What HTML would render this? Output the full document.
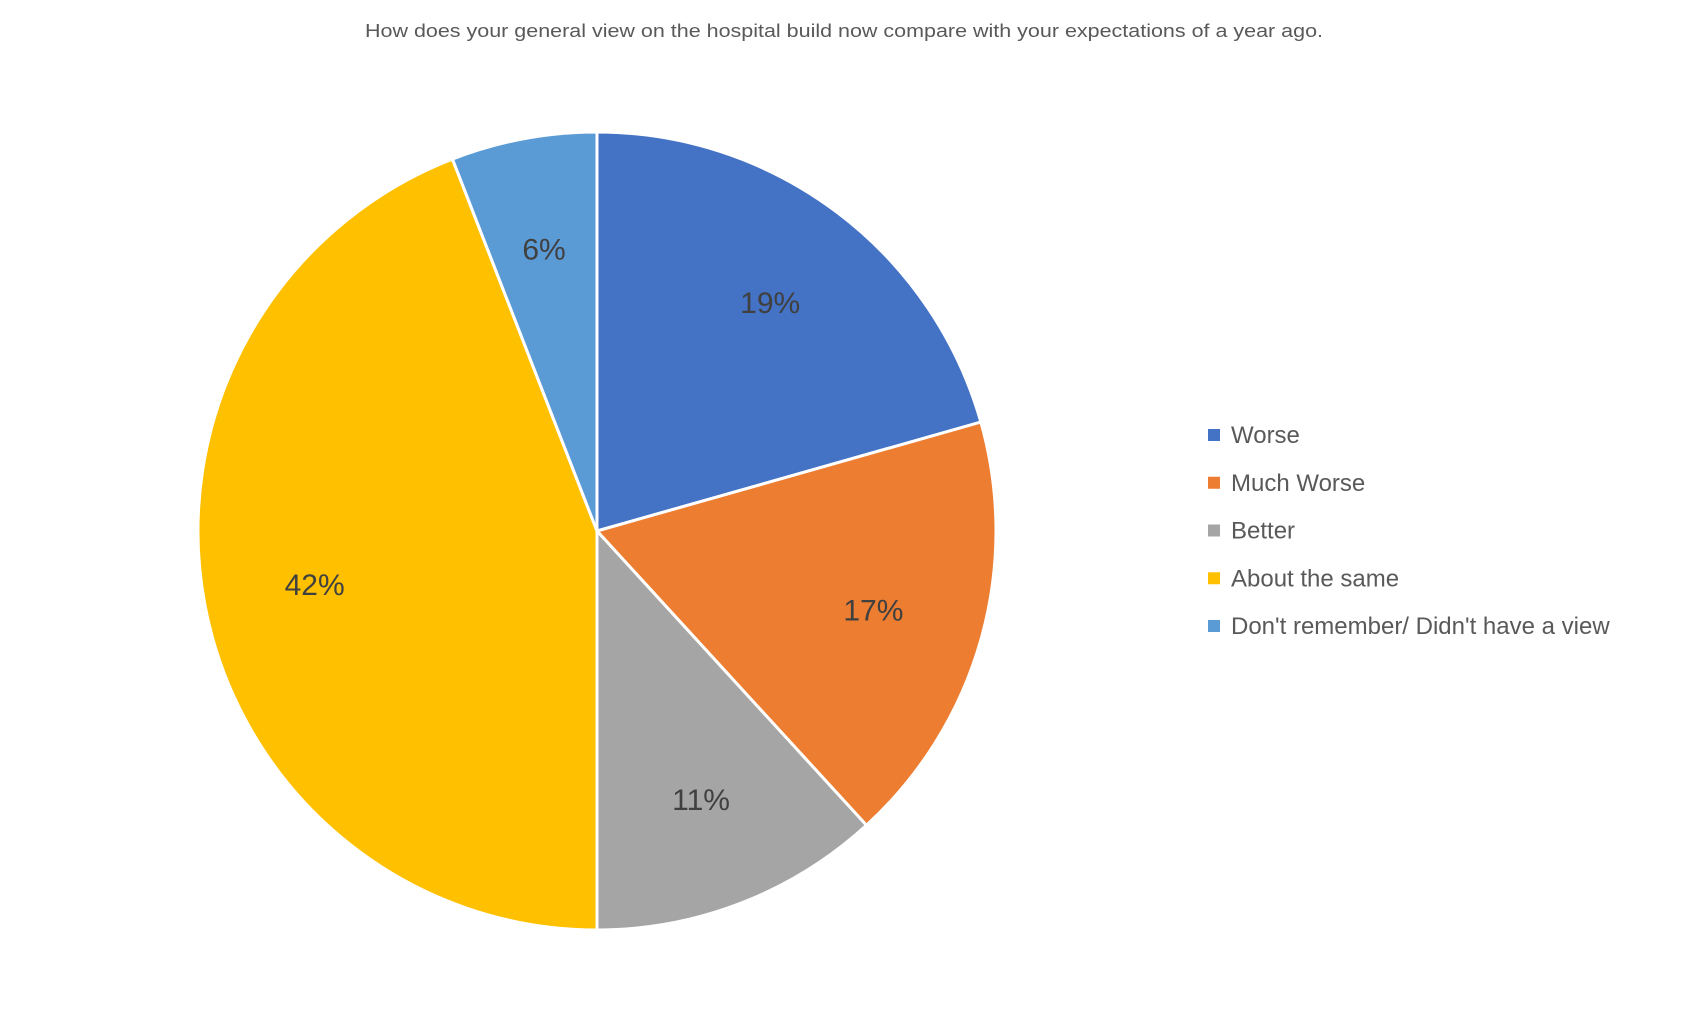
<!DOCTYPE html>
<html><head><meta charset="utf-8"><style>
html,body{margin:0;padding:0;background:#fff;}
svg{display:block;font-family:"Liberation Sans",sans-serif;}
</style></head><body>
<svg id="chart" width="1684" height="1015" viewBox="0 0 1684 1015">
<text x="844" y="37" text-anchor="middle" font-size="18" fill="#595959" textLength="958" lengthAdjust="spacingAndGlyphs">How does  your general  view on the hospital build  now compare with your expectations of a year ago.</text>
<g id="slices"></g>
<g id="labels"></g>
<g id="legend"></g>
</svg>
<script>
const categories = ["Worse","Much Worse","Better","About the same","Don't remember/ Didn't have a view"];
const values = [20.6,17.6,11.8,44.1,5.9];
const valueLabels = ["19%","17%","11%","42%","6%"];
const colors = ["#4472C4","#ED7D31","#A5A5A5","#FFC000","#5B9BD5"];
const NS="http://www.w3.org/2000/svg";
const cx=597, cy=531, r=399;
const total=values.reduce((a,b)=>a+b,0);
const sl=document.getElementById('slices'), lb=document.getElementById('labels'), lg=document.getElementById('legend');
function pt(a,rr){return [cx+rr*Math.sin(a), cy-rr*Math.cos(a)];}
let acc=0;
values.forEach((v,i)=>{
  const a0=acc/total*2*Math.PI; acc+=v; const a1=acc/total*2*Math.PI;
  const p0=pt(a0,r), p1=pt(a1,r);
  const large=(a1-a0)>Math.PI?1:0;
  const p=document.createElementNS(NS,'path');
  p.setAttribute('d',`M${cx},${cy} L${p0[0]},${p0[1]} A${r},${r} 0 ${large} 1 ${p1[0]},${p1[1]} Z`);
  p.setAttribute('fill',colors[i]); p.setAttribute('stroke','#fff'); p.setAttribute('stroke-width','3');
  
  
  sl.appendChild(p);
  const am=(a0+a1)/2, lp=pt(am,r*0.72);
  const t=document.createElementNS(NS,'text');
  t.setAttribute('x',lp[0]); t.setAttribute('y',lp[1]+11);
  t.setAttribute('text-anchor','middle'); t.setAttribute('font-size','30'); t.setAttribute('fill','#404040');
  t.textContent=valueLabels[i];
  
  
  lb.appendChild(t);
  const y=435+i*47.75;
  const g=document.createElementNS(NS,'g');
  
  
  const s=document.createElementNS(NS,'rect');
  s.setAttribute('x',1208); s.setAttribute('y',y-6); s.setAttribute('width',12); s.setAttribute('height',12); s.setAttribute('fill',colors[i]);
  
  
  const lt=document.createElementNS(NS,'text');
  lt.setAttribute('x',1231); lt.setAttribute('y',y+8); lt.setAttribute('font-size','24'); lt.setAttribute('fill','#595959');
  lt.textContent=categories[i];
  
  
  g.appendChild(s); g.appendChild(lt); lg.appendChild(g);
});
</script>
</body></html>
